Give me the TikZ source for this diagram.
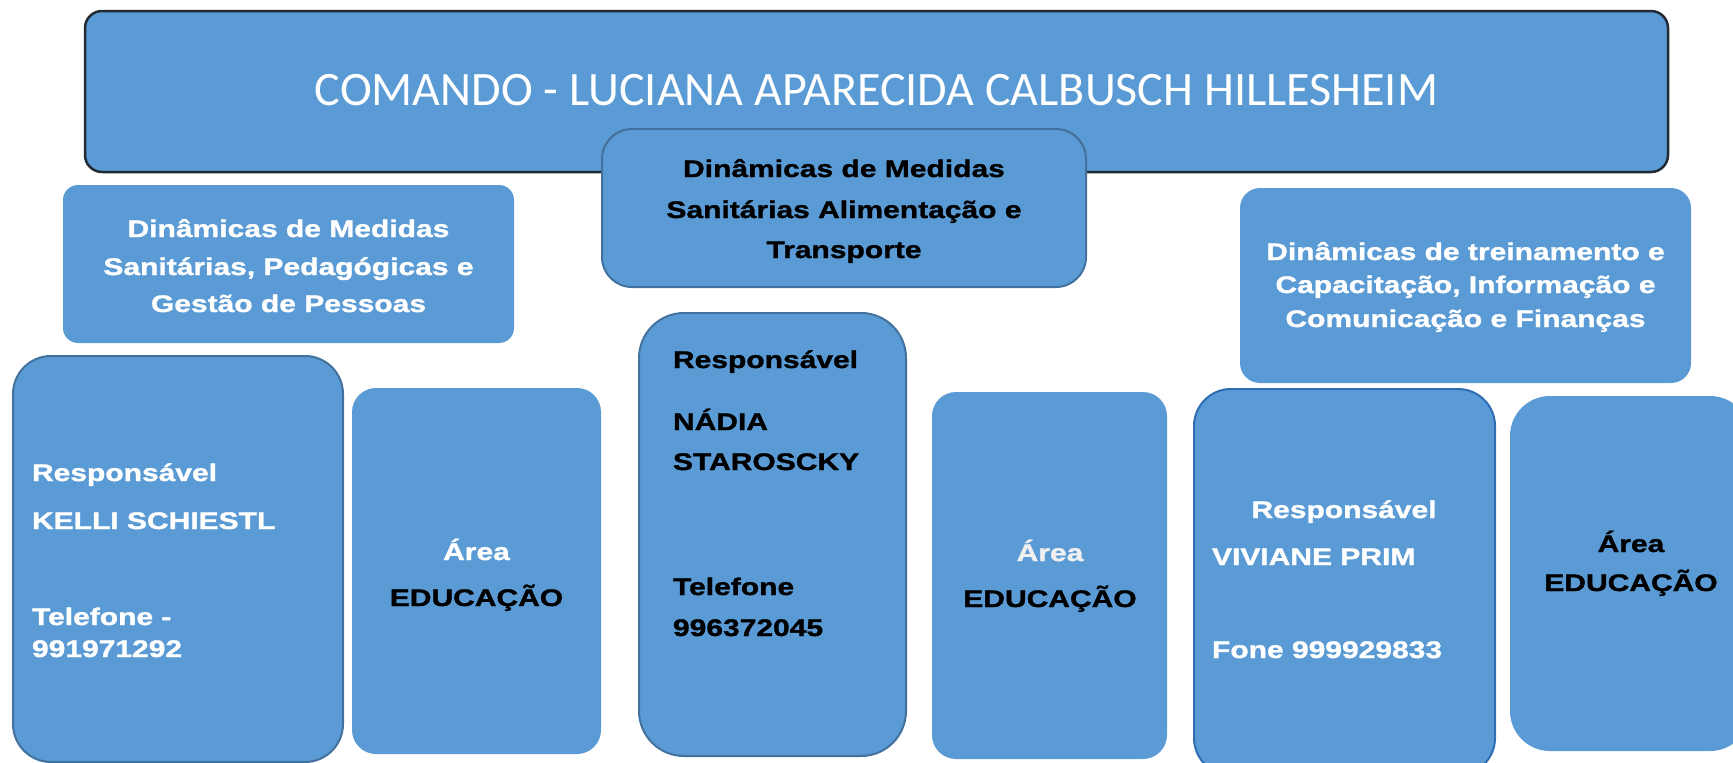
\documentclass[tikz,border=0pt]{standalone}
\usepackage{fontspec}
\newfontfamily\bfont{Liberation Sans}[FakeStretch=1.25, FakeBold=1.3]
\newfontfamily\tfont{Carlito}
\definecolor{boxblue}{HTML}{5B9BD5}
\definecolor{edgeblue}{HTML}{41719C}
\definecolor{edgeblue2}{HTML}{2E6DB4}
\definecolor{topedge}{HTML}{222B35}
\tikzset{
  box/.style={rectangle, fill=boxblue, inner sep=0pt, outer sep=0pt},
  bt/.style={font=\bfont\bfseries\fontsize{24}{24}\selectfont, inner sep=0pt, outer sep=0pt},
  wt/.style={bt, text=white},
  kt/.style={bt, text=black},
}
\begin{document}
\begin{tikzpicture}[x=1pt,y=-1pt]
\useasboundingbox (0,0) rectangle (1733,763);
% top command box
\node[box, draw=topedge, line width=2.5pt, rounded corners=17pt, minimum width=1583pt, minimum height=161pt] (top) at (876.5,91.5) {};
\node[font=\tfont\fontsize{48}{50}\selectfont, text=white, inner sep=0pt, anchor=base] (title) at (876.5,105) {COMANDO - LUCIANA APARECIDA CALBUSCH HILLESHEIM};
% second row
\node[box, rounded corners=15pt, minimum width=451pt, minimum height=158pt] (L1) at (288.5,264) {};
\node[wt, anchor=base] (L1a) at (288.5,237) {Dinâmicas de Medidas};
\node[wt, anchor=base] (L1b) at (288.5,275) {Sanitárias, Pedagógicas e};
\node[wt, anchor=base] (L1c) at (288.5,312) {Gestão de Pessoas};

\node[box, draw=edgeblue, line width=2pt, rounded corners=30pt, minimum width=484pt, minimum height=158pt] (M) at (844,208) {};
\node[kt, anchor=base] (Ma) at (844,177) {Dinâmicas de Medidas};
\node[kt, anchor=base] (Mb) at (844,218) {Sanitárias Alimentação e};
\node[kt, anchor=base] (Mc) at (844,258) {Transporte};

\node[box, rounded corners=20pt, minimum width=451pt, minimum height=195pt] (R) at (1465.5,285.5) {};
\node[wt, anchor=base] (Ra) at (1465.5,260) {Dinâmicas de treinamento e};
\node[wt, anchor=base] (Rb) at (1465.5,293) {Capacitação, Informação e};
\node[wt, anchor=base] (Rc) at (1465.5,327) {Comunicação e Finanças};
% bottom row
\node[box, draw=edgeblue, line width=2pt, rounded corners=38pt, minimum width=330pt, minimum height=406pt] (B1) at (178,559) {};
\node[wt, anchor=base west] (B1a) at (32,481) {Responsável};
\node[wt, anchor=base west] (B1b) at (32,529) {KELLI SCHIESTL};
\node[wt, anchor=base west] (B1c) at (32,625) {Telefone -};
\node[wt, anchor=base west] (B1d) at (32,657) {991971292};

\node[box, rounded corners=24pt, minimum width=249pt, minimum height=366pt] (B2) at (476.5,571) {};
\node[wt, anchor=base] (B2a) at (476.5,560) {Área};
\node[kt, anchor=base] (B2b) at (476.5,606) {EDUCAÇÃO};

\node[box, draw=edgeblue, line width=2pt, rounded corners=45pt, minimum width=267pt, minimum height=443pt] (B3) at (772.5,534.5) {};
\node[kt, anchor=base west] (B3a) at (673,368) {Responsável};
\node[kt, anchor=base west] (B3b) at (673,430) {NÁDIA};
\node[kt, anchor=base west] (B3c) at (673,470) {STAROSCKY};
\node[kt, anchor=base west] (B3d) at (673,595) {Telefone};
\node[kt, anchor=base west] (B3e) at (673,636) {996372045};

\node[box, rounded corners=24pt, minimum width=235pt, minimum height=367pt] (B4) at (1049.5,575.5) {};
\node[wt, text=white!94!black, anchor=base] (B4a) at (1050,561) {Área};
\node[kt, anchor=base] (B4b) at (1050,607) {EDUCAÇÃO};

\node[box, draw=edgeblue2, line width=2pt, rounded corners=37pt, minimum width=301pt, minimum height=386pt] (B5) at (1344.5,582) {};
\node[wt, anchor=base] (B5a) at (1344,518) {Responsável};
\node[wt, anchor=base west] (B5b) at (1212,565) {VIVIANE PRIM};
\node[wt, anchor=base west] (B5c) at (1212,658) {Fone 999929833};

\node[box, rounded corners=40pt, minimum width=240pt, minimum height=355pt] (B6) at (1630,573.5) {};
\node[kt, anchor=base] (B6a) at (1631,552) {Área};
\node[kt, anchor=base] (B6b) at (1631,591) {EDUCAÇÃO};
\end{tikzpicture}
\end{document}
